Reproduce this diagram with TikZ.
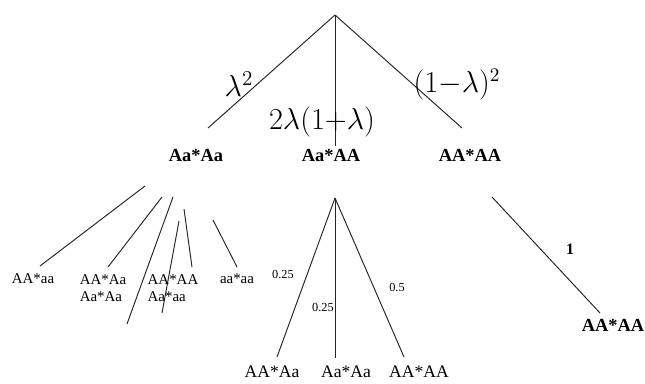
\documentclass[tikz,border=0pt]{standalone}
\usepackage{fontspec}
\setmainfont{Liberation Serif}
\usepackage{tikz}
\usetikzlibrary{positioning, calc}
\tikzset{
  branch/.style={draw, line width=0.55pt, color=black!85},
  crossname/.style={font=\fontsize{10.5}{12}\selectfont\bfseries, inner sep=1pt},
  leafname/.style={font=\fontsize{8.5}{9.5}\selectfont, inner sep=1pt, align=left},
  bottomname/.style={font=\fontsize{10}{11}\selectfont, inner sep=1pt},
  problabel/.style={font=\fontsize{16}{18}\selectfont, inner sep=0pt},
  smallprob/.style={font=\fontsize{7}{8}\selectfont, inner sep=1pt},
}

\begin{document}
\begin{tikzpicture}[x=0.02cm, y=-0.02cm]
  \useasboundingbox (0,0) rectangle (645,383);

  % Root and first level
  \coordinate (root) at (335,15);
  \coordinate (endL) at (208,128);
  \coordinate (endM) at (335,146);
  \coordinate (endR) at (462,128);
  \draw[branch] (root) -- (endL);
  \draw[branch] (root) -- (endM);
  \draw[branch] (root) -- (endR);

  % Probabilities of the first level
  \node[problabel, font=\fontsize{18}{20}\selectfont] (pL) at (239,84) {$\lambda^2$};
  \node[problabel] (pM) at (322,122) {$2\lambda(1{+}\lambda)$};
  \node[problabel] (pR) at (457,85) {$(1{-}\lambda)^2$};

  % Crosses
  \node[crossname] (crossL) at (196,155) {Aa*Aa};
  \node[crossname] (crossM) at (331,155) {Aa*AA};
  \node[crossname] (crossR) at (470,155) {AA*AA};

  % Offspring of Aa*Aa
  \coordinate (a1) at (145,186); \coordinate (b1) at (40,266);
  \coordinate (a2) at (162,197); \coordinate (b2) at (108,267);
  \coordinate (a3) at (173,197); \coordinate (b3) at (127,324);
  \coordinate (a4) at (179,221); \coordinate (b4) at (162,313);
  \coordinate (a5) at (184,209); \coordinate (b5) at (192,267);
  \coordinate (a6) at (213,220); \coordinate (b6) at (237,267);
  \foreach \i in {1,...,6}
    \draw[branch] (a\i) -- (b\i);

  \node[leafname] (leafA) at (33,279) {AA*aa};
  \node[leafname] (leafB) at (103,288) {AA*Aa\\Aa*Aa};
  \node[leafname] (leafC) at (173,288) {AA*AA\\Aa*aa};
  \node[leafname] (leafD) at (237,279) {aa*aa};

  % Offspring of Aa*AA
  \coordinate (midtop) at (335,198);
  \coordinate (midL) at (277,357);
  \coordinate (midM) at (335,358);
  \coordinate (midR) at (404,357);
  \draw[branch] (midtop) -- (midL);
  \draw[branch] (midtop) -- (midM);
  \draw[branch] (midtop) -- (midR);

  \node[smallprob] (qL) at (283,274) {0.25};
  \node[smallprob] (qM) at (323,307) {0.25};
  \node[smallprob] (qR) at (397,287) {0.5};

  \node[bottomname] (botL) at (272,372) {AA*Aa};
  \node[bottomname] (botM) at (346,372) {Aa*Aa};
  \node[bottomname] (botR) at (419,372) {AA*AA};

  % Offspring of AA*AA
  \coordinate (rtop) at (492,197);
  \coordinate (rend) at (600,313);
  \draw[branch] (rtop) -- (rend);
  \node[smallprob, font=\fontsize{9}{10}\selectfont\bfseries] (qOne) at (570,249) {1};
  \node[crossname] (crossRR) at (613,325) {AA*AA};
\end{tikzpicture}
\end{document}
